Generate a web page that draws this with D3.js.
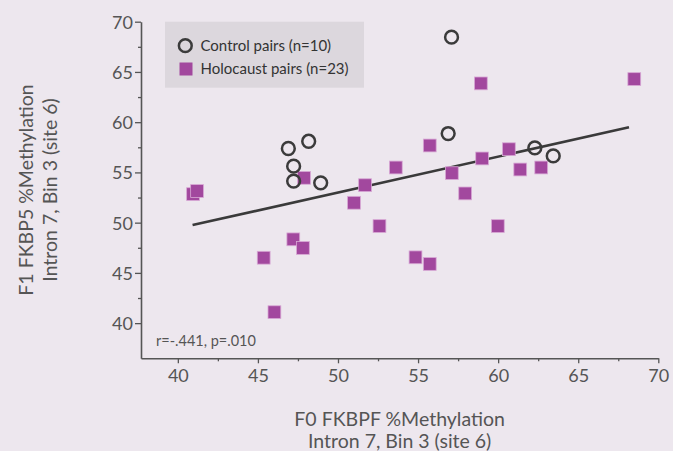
<!DOCTYPE html>
<html>
<head>
<meta charset="utf-8">
<script src="https://cdn.jsdelivr.net/npm/d3@7"></script>
<style>
  html, body { margin: 0; padding: 0; background: #ede7ee; }
  svg { display: block; font-family: Lato, "Open Sans", sans-serif; }
</style>
</head>
<body>
<script>
// values
var controlX = [46.9, 48.17, 47.23, 47.23, 48.92, 57.09, 56.88, 62.29, 63.44];
var controlY = [57.38, 58.1, 55.62, 54.14, 53.96, 68.46, 58.87, 57.44, 56.64];

var holoX = [40.95, 41.2, 47.88, 51.69, 53.61, 51.0, 52.59, 47.21, 47.81, 45.36, 46.03, 58.92,
             68.5, 55.73, 60.67, 59.0, 57.11, 61.38, 62.69, 57.94, 59.98, 54.84, 55.73];
var holoY = [52.84, 53.15, 54.46, 53.73, 55.49, 51.98, 49.66, 48.34, 47.48, 46.51, 41.09, 63.86,
             64.29, 57.68, 57.31, 56.39, 54.93, 55.29, 55.49, 52.91, 49.66, 46.55, 45.89];

// fitted line end points
var fitX = [40.92, 68.17];
var fitY = [49.76, 59.49];

var xTicks = [40, 45, 50, 55, 60, 65, 70];
var xMinor = [42.5, 47.5, 52.5, 57.5, 62.5, 67.5];
var yTicks = [40, 45, 50, 55, 60, 65, 70];
var yMinor = [42.5, 47.5, 52.5, 57.5, 62.5, 67.5];

var legendLabels = ["Control pairs (n=10)", "Holocaust pairs (n=23)"];
var statText = "r=-.441, p=.010";
var xTitle = ["F0 FKBPF %Methylation", "Intron 7, Bin 3 (site 6)"];
var yTitle = ["F1 FKBP5 %Methylation", "Intron 7, Bin 3 (site 6)"];

var W = 673, H = 451;
var axisColor = "#555";
var purple = "#a2489e";

var svg = d3.select("body").append("svg")
    .attr("width", W)
    .attr("height", H);

svg.append("rect").attr("width", W).attr("height", H).attr("fill", "#ede7ee");

var x = d3.scaleLinear().domain([37.7, 70]).range([141, 658.3]);
var y = d3.scaleLinear().domain([36.5, 70]).range([358.3, 21.7]);

// minor ticks first, no labels
svg.append("g")
    .attr("transform", "translate(0," + y(36.5) + ")")
    .call(d3.axisBottom(x).tickValues(xMinor).tickSize(3).tickFormat(""))
    .call(g => g.select(".domain").remove());
svg.append("g")
    .attr("transform", "translate(" + x(37.7) + ",0)")
    .call(d3.axisLeft(y).tickValues(yMinor).tickSize(3).tickFormat(""))
    .call(g => g.select(".domain").remove());

var xAxis = svg.append("g")
    .attr("transform", "translate(0," + y(36.5) + ")")
    .call(d3.axisBottom(x).tickValues(xTicks).tickSize(5).tickSizeOuter(0).tickPadding(6));
var yAxis = svg.append("g")
    .attr("transform", "translate(" + x(37.7) + ",0)")
    .call(d3.axisLeft(y).tickValues(yTicks).tickSize(6).tickSizeOuter(0).tickPadding(2));

svg.selectAll(".tick line").attr("stroke", axisColor).attr("stroke-width", 1.3);
svg.selectAll(".domain").attr("stroke", axisColor).attr("stroke-width", 1.6);
svg.selectAll(".tick text")
    .attr("fill", axisColor)
    .style("font-size", "18px")
    .style("font-family", "Lato, sans-serif");
yAxis.selectAll(".tick text").attr("dy", "0.36em");

// axis titles
svg.append("g").selectAll("text")
    .data(xTitle).enter()
    .append("text")
    .attr("x", (x(37.7) + x(70)) / 2)
    .attr("y", (d, i) => 426 + i * 22.3)
    .attr("text-anchor", "middle")
    .attr("fill", axisColor)
    .style("font-size", "19.5px")
    .text(d => d);

svg.append("g").selectAll("text")
    .data(yTitle).enter()
    .append("text")
    .attr("transform", (d, i) => "translate(" + (33 + i * 23.5) + "," + (y(36.5) + y(70)) / 2 + ") rotate(-90)")
    .attr("text-anchor", "middle")
    .attr("fill", axisColor)
    .style("font-size", "19.5px")
    .text(d => d);

// legend
svg.append("rect")
    .attr("x", 165).attr("y", 21.7)
    .attr("width", 199).attr("height", 66)
    .attr("fill", "#dcd7dd");
svg.append("circle")
    .attr("cx", 185.3).attr("cy", 45.7).attr("r", 6.4)
    .attr("fill", "none").attr("stroke", "#3b3b3b").attr("stroke-width", 2.5);
svg.append("rect")
    .attr("x", 179.5).attr("y", 62.5).attr("width", 13).attr("height", 13)
    .attr("fill", purple);
svg.append("g").selectAll("text")
    .data(legendLabels).enter()
    .append("text")
    .attr("x", 200.5)
    .attr("y", (d, i) => 50.7 + i * 23.5)
    .attr("fill", "#333")
    .style("font-size", "15px")
    .text(d => d);

// fit line
svg.append("line")
    .attr("x1", x(fitX[0])).attr("y1", y(fitY[0]))
    .attr("x2", x(fitX[1])).attr("y2", y(fitY[1]))
    .attr("stroke", "#3a3a3a")
    .attr("stroke-width", 2.6);

// holocaust squares
var sq = 12.8;
svg.append("g").selectAll("rect")
    .data(holoX).enter()
    .append("rect")
    .attr("x", (d, i) => x(d) - sq / 2)
    .attr("y", (d, i) => y(holoY[i]) - sq / 2)
    .attr("width", sq).attr("height", sq)
    .attr("fill", purple)
    .attr("stroke", "#d8a8d5")
    .attr("stroke-width", 0.8);

// control circles
svg.append("g").selectAll("circle")
    .data(controlX).enter()
    .append("circle")
    .attr("cx", d => x(d))
    .attr("cy", (d, i) => y(controlY[i]))
    .attr("r", 6.4)
    .attr("fill", "none")
    .attr("stroke", "#3b3b3b")
    .attr("stroke-width", 2.5);

// stats note
svg.append("text")
    .attr("x", 156).attr("y", 345.7)
    .attr("fill", axisColor)
    .style("font-size", "14.5px")
    .text(statText);
</script>
</body>
</html>
